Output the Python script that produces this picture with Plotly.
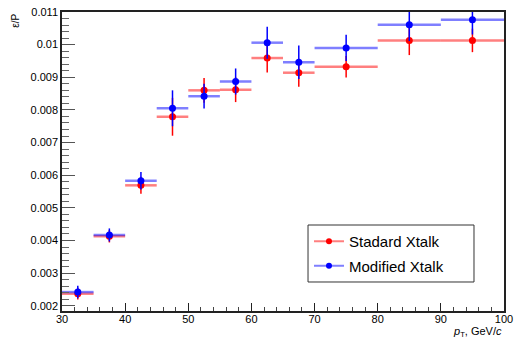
import plotly.graph_objects as go

# Bin centres and half-widths (pT, GeV/c)
pt = [32.5, 37.5, 42.5, 47.5, 52.5, 57.5, 62.5, 67.5, 75, 85, 95]
pt_halfwidth = [2.5, 2.5, 2.5, 2.5, 2.5, 2.5, 2.5, 2.5, 5, 5, 5]

# Standard Xtalk
std_val = [0.00237, 0.00413, 0.00569, 0.00779, 0.00860, 0.00862, 0.00959, 0.00914, 0.00932, 0.01013, 0.01013]
std_err = [0.00018, 0.00019, 0.00026, 0.00058, 0.00038, 0.00038, 0.00044, 0.00043, 0.00033, 0.00045, 0.00036]

# Modified Xtalk
mod_val = [0.00242, 0.00417, 0.00583, 0.00805, 0.00842, 0.00887, 0.01006, 0.00946, 0.00990, 0.01061, 0.01076]
mod_err = [0.00019, 0.00020, 0.00027, 0.00055, 0.00038, 0.00040, 0.00049, 0.00051, 0.00040, 0.00050, 0.00045]

series = [
    ("Stadard Xtalk", std_val, std_err, "rgb(255,0,0)", "rgba(255,0,0,0.5)"),
    ("Modified Xtalk", mod_val, mod_err, "rgb(0,0,255)", "rgba(0,0,255,0.5)"),
]

FONT = "Liberation Sans, Arial, Helvetica, sans-serif"

fig = go.Figure()
for name, vals, errs, col, light in series:
    fig.add_trace(go.Scatter(
        x=pt, y=vals, mode="markers", showlegend=False,
        marker=dict(color=col, size=7),
        error_x=dict(type="data", array=pt_halfwidth, color=light, thickness=2.5, width=0),
        error_y=dict(type="data", array=errs, color=col, thickness=1.5, width=0),
    ))
for i, (name, vals, errs, col, light) in enumerate(series):
    fig.add_trace(go.Scatter(
        x=[None], y=[None], mode="lines+markers", name=name,
        legendgroup=f"g{i}",
        line=dict(color=light, width=2),
        marker=dict(color=col, size=6),
    ))

fig.update_layout(
    width=514, height=340,
    margin=dict(l=62, r=10, t=12, b=29, autoexpand=False),
    paper_bgcolor="white", plot_bgcolor="white",
    font=dict(family=FONT, size=11, color="black"),
    legend=dict(
        x=0.5588, y=0.2876, xanchor="left", yanchor="top",
        borderwidth=0, bgcolor="rgba(0,0,0,0)",
        font=dict(size=15, family=FONT),
        traceorder="grouped", tracegroupgap=2,
        itemwidth=30,
    ),
    shapes=[dict(
        type="rect", xref="paper", yref="paper",
        x0=0.5566, x1=0.9321, y0=0.097, y1=0.2876,
        line=dict(color="#333", width=1), fillcolor="white", layer="below",
    )],
    xaxis=dict(
        range=[30, 100], dtick=10, tick0=30, automargin=False,
        ticks="inside", ticklen=8, tickwidth=1, tickcolor="#222",
        minor=dict(dtick=2, ticks="inside", ticklen=4, tickcolor="#444", showgrid=False),
        showline=True, linecolor="#222", linewidth=1.5, mirror=True,
        showgrid=False, zeroline=False,
        tickfont=dict(size=11), ticklabelstandoff=-3,
    ),
    yaxis=dict(
        range=[0.00184, 0.011], dtick=0.001, tick0=0.002, automargin=False,
        ticks="inside", ticklen=13, tickwidth=1, tickcolor="#555",
        minor=dict(dtick=0.0002, ticks="inside", ticklen=7, tickcolor="#666", showgrid=False),
        showline=True, linecolor="#222", linewidth=1.5, mirror=True,
        showgrid=False, zeroline=False,
        tickfont=dict(size=11),
    ),
    annotations=[
        dict(text="<i>p</i><sub>T</sub>, GeV/<i>c</i>", xref="paper", yref="paper",
             x=1.0, y=-0.1, xanchor="right", yanchor="bottom", showarrow=False,
             font=dict(size=11, family=FONT)),
        dict(text="ε/P", xref="paper", yref="paper", textangle=-90,
             x=-0.107, y=1.0, xanchor="center", yanchor="top", showarrow=False,
             font=dict(size=10, family=FONT)),
    ],
)

fig.write_html("out.html")
